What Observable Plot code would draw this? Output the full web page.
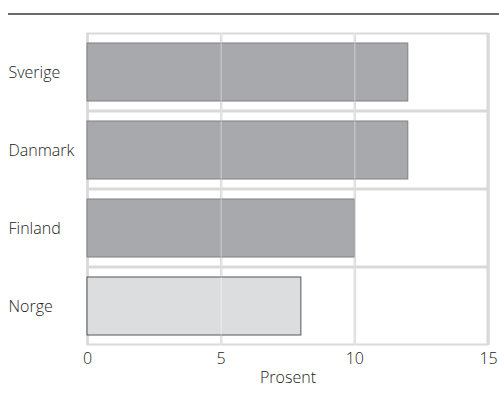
<!DOCTYPE html>
<html>
<head>
<meta charset="utf-8">
<script src="https://cdn.jsdelivr.net/npm/d3@7"></script>
<script src="https://cdn.jsdelivr.net/npm/@observablehq/plot@0.6"></script>
<style>
  html, body { margin: 0; padding: 0; background: #fff; }
  #chart { width: 499px; height: 397px; }
</style>
</head>
<body>
<div id="chart"></div>
<script>
const countries = ["Sverige", "Danmark", "Finland", "Norge"];
const values = [12, 12, 10, 8];
const xTicks = [0, 5, 10, 15];
const xLabel = "Prosent";
const highlight = "Norge";

const data = countries.map((c, i) => ({land: c, value: values[i]}));

const plot = Plot.plot({
  width: 499,
  height: 397,
  marginLeft: 87,
  marginRight: 11,
  marginTop: 33,
  marginBottom: 52,
  style: {fontFamily: "'Open Sans', sans-serif", fontSize: "16px", color: "#222", background: "#fff"},
  x: {domain: [0, 15], ticks: xTicks, label: null},
  y: {domain: countries, paddingInner: 0, paddingOuter: 0, label: null},
  marks: [
    Plot.barX(countries, {x1: 0, x2: 15, y: d => d, fill: "none", stroke: "#d9d9d9", strokeWidth: 2, inset: 0.5}),
    Plot.gridX(xTicks, {stroke: "#d9d9d9", strokeWidth: 2.5, strokeOpacity: 1}),
    Plot.barX(data, {
      x: "value", y: "land",
      fill: d => d.land === highlight ? "#dcdddf" : "#a8a9ac",
      stroke: d => d.land === highlight ? "#555" : "#808080",
      strokeWidth: 1,
      insetTop: 10, insetBottom: 10
    }),
    Plot.gridX(xTicks.filter(t => t > 0 && t < 15), {stroke: "#fff", strokeOpacity: 0.45, strokeWidth: 1}),
    Plot.axisX({ticks: xTicks, tickSize: 0, tickPadding: 7, label: null, fontWeight: 300, fill: "#222"}),
    Plot.axisY({tickSize: 0, tickPadding: 79, textAnchor: "start", label: null, fontWeight: 300, fill: "#222"}),
    Plot.text([xLabel], {text: d => d, frameAnchor: "bottom", dy: 37, fill: "#222", fontWeight: 300})
  ]
});

const svg = d3.select(plot);
svg.append("line")
  .attr("x1", 8).attr("x2", 499).attr("y1", 14).attr("y2", 14)
  .attr("stroke", "#6b6b6b").attr("stroke-width", 2);

document.getElementById("chart").appendChild(plot);
</script>
</body>
</html>
